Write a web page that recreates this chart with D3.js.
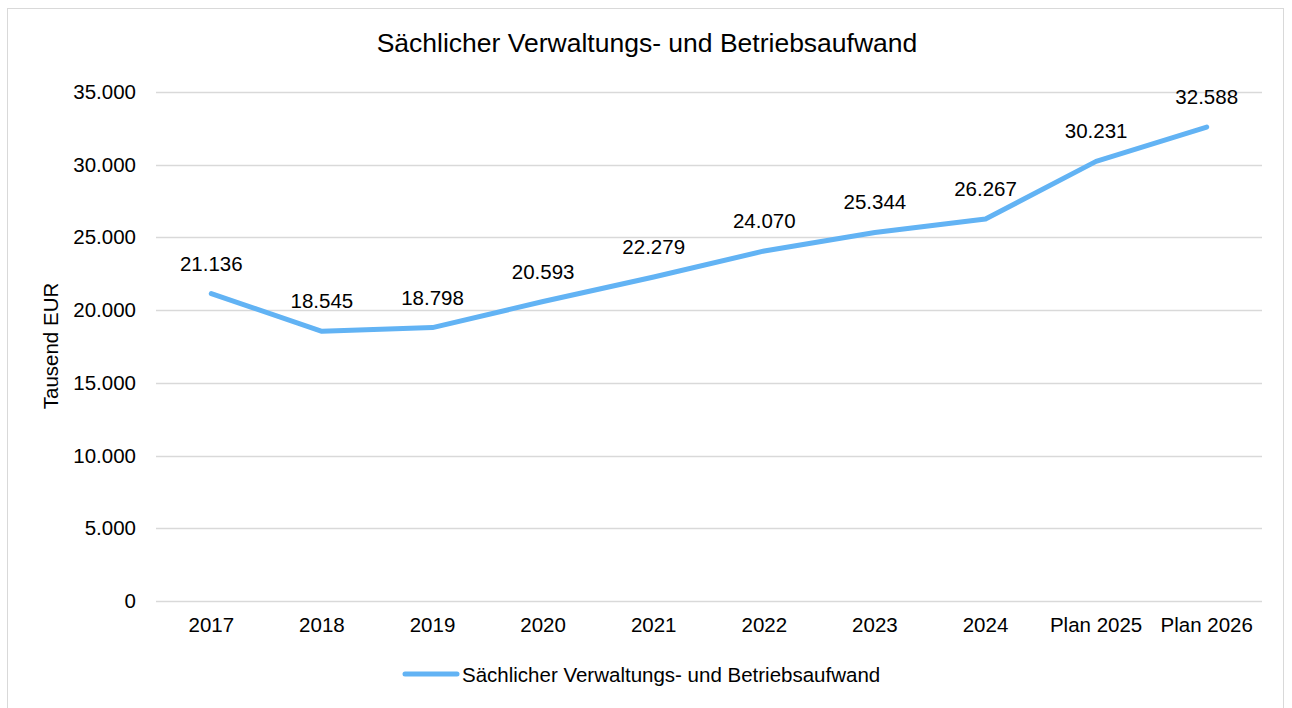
<html>
    <head>
        <title>Sächlicher Verwaltungs- und Betriebsaufwand</title>
        <style>
            body { margin: 0; background: #fff; }
            text { font-family: "Liberation Sans", Arial, sans-serif; fill: #000; }
        </style>
    </head>
    <body>
        <div id="chart-area"></div>

        <script src="https://d3js.org/d3.v7.min.js"></script>
        <script>

            // data
            const years = ["2017", "2018", "2019", "2020", "2021", "2022", "2023", "2024", "Plan 2025", "Plan 2026"]
            const values = [21136, 18545, 18798, 20593, 22279, 24070, 25344, 26267, 30231, 32588]
            const yTicks = [0, 5000, 10000, 15000, 20000, 25000, 30000, 35000]
            const seriesName = "Sächlicher Verwaltungs- und Betriebsaufwand"

            const W = 1292, H = 708
            const PLOT = { LEFT: 156, RIGHT: 1262, TOP: 92, BOTTOM: 601 }
            const LINE_COLOR = "#62b3f4"

            const fmt = d3.formatLocale({ decimal: ",", thousands: ".", grouping: [3], currency: ["", "€"] }).format(",d")

            const svg = d3.select("#chart-area")
                .append("svg")
                    .attr("width", W)
                    .attr("height", H)

            // chart border
            svg.append("rect")
                .attr("x", 7.5)
                .attr("y", 8.5)
                .attr("width", 1276)
                .attr("height", 720)
                .attr("fill", "#fff")
                .attr("stroke", "#d9d9d9")
                .attr("stroke-width", 1)

            // title
            svg.append("text")
                .attr("x", 647)
                .attr("y", 52)
                .attr("text-anchor", "middle")
                .attr("font-size", "26.5px")
                .text(seriesName)

            // scales
            const x = d3.scaleBand()
                .domain(years)
                .range([PLOT.LEFT, PLOT.RIGHT])

            const y = d3.scaleLinear()
                .domain([0, 35000])
                .range([PLOT.BOTTOM, PLOT.TOP])

            // gridlines
            svg.append("g")
                .selectAll("line")
                .data(yTicks).enter()
                .append("line")
                    .attr("x1", PLOT.LEFT)
                    .attr("x2", PLOT.RIGHT)
                    .attr("y1", d => Math.round(y(d)) + 0.5)
                    .attr("y2", d => Math.round(y(d)) + 0.5)
                    .attr("stroke", "#d9d9d9")
                    .attr("stroke-width", 1.5)

            // y axis
            const yAxis = d3.axisLeft(y)
                .tickValues(yTicks)
                .tickSize(0)
                .tickPadding(20)
                .tickFormat(d => fmt(d))

            svg.append("g")
                .attr("transform", `translate(${PLOT.LEFT}, 0)`)
                .call(yAxis)
                .call(g => g.select(".domain").remove())
                .selectAll("text")
                    .attr("font-size", "20.5px")
                    .attr("font-family", "'Liberation Sans', Arial, sans-serif")
                    .attr("fill", "#000")

            // x axis
            const xAxis = d3.axisBottom(x).tickSize(0).tickPadding(16)

            svg.append("g")
                .attr("transform", `translate(0, ${PLOT.BOTTOM})`)
                .call(xAxis)
                .call(g => g.select(".domain").remove())
                .selectAll("text")
                    .attr("font-size", "20.5px")
                    .attr("font-family", "'Liberation Sans', Arial, sans-serif")
                    .attr("fill", "#000")

            // y label
            svg.append("text")
                .attr("transform", "translate(58, 346) rotate(-90)")
                .attr("text-anchor", "middle")
                .attr("font-size", "20.5px")
                .text("Tausend EUR")

            // line
            const line = d3.line()
                .x((d, i) => x(years[i]) + x.bandwidth() / 2)
                .y(d => y(d))

            svg.append("path")
                .datum(values)
                .attr("d", line)
                .attr("fill", "none")
                .attr("stroke", LINE_COLOR)
                .attr("stroke-width", 5)
                .attr("stroke-linejoin", "round")
                .attr("stroke-linecap", "round")

            // data labels
            svg.append("g")
                .selectAll("text")
                .data(values).enter()
                .append("text")
                    .attr("x", (d, i) => x(years[i]) + x.bandwidth() / 2)
                    .attr("y", d => y(d) - 23)
                    .attr("text-anchor", "middle")
                    .attr("font-size", "20.5px")
                    .text(d => fmt(d))

            // legend
            const legend = svg.append("g")
                .attr("transform", "translate(405, 674)")

            legend.append("line")
                .attr("x1", 0)
                .attr("x2", 52)
                .attr("stroke", LINE_COLOR)
                .attr("stroke-width", 5)
                .attr("stroke-linecap", "round")

            legend.append("text")
                .attr("x", 57)
                .attr("y", 8)
                .attr("font-size", "20.5px")
                .text(seriesName)

        </script>
    </body>
</html>
